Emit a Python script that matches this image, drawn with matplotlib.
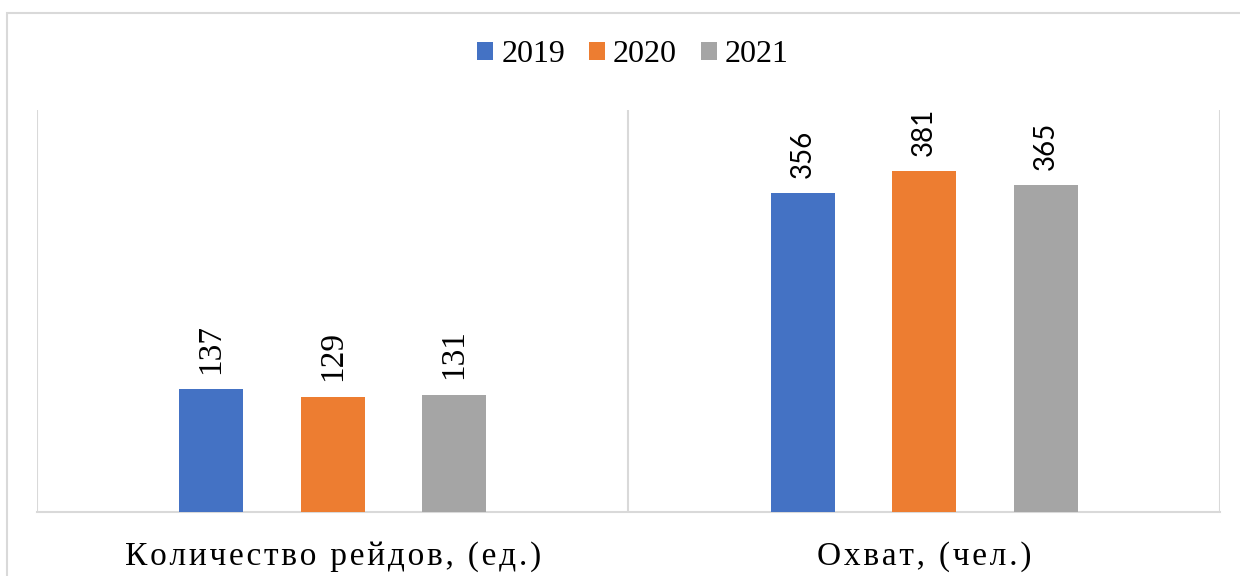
import matplotlib.pyplot as plt
import numpy as np
from matplotlib.patches import Rectangle

# data
categories = ["Количество рейдов, (ед.)", "Охват, (чел.)"]
years = ["2019", "2020", "2021"]
values_2019 = [137, 356]
values_2020 = [129, 381]
values_2021 = [131, 365]

COLORS = ["#4472C4", "#ED7D31", "#A5A5A5"]
GRID = "#D9D9D9"
SERIF = "Liberation Serif"


def spaced(text):
    """Mimic the letter spacing of the original axis labels."""
    return "\u200a".join(text)


W, H = 1240, 576
fig = plt.figure(figsize=(W / 100, H / 100), dpi=100)

# outer chart frame (cropped on the right and bottom in the reference)
fig.patches.append(
    Rectangle((7 / W, -0.1), 1.2, 1.1 - 13 / H, transform=fig.transFigure,
              fill=False, edgecolor=GRID, linewidth=1.5)
)

ax = fig.add_axes([37 / W, 1 - 512 / H, (1220 - 37) / W, (512 - 110) / H])

series = [values_2019, values_2020, values_2021]
x = np.arange(len(categories))
width = 0.108
step = 0.2056

bars = []
for i, (year, vals) in enumerate(zip(years, series)):
    b = ax.bar(x + (i - 1) * step, vals, width, color=COLORS[i], label=year, zorder=3)
    bars.append(b)

# value labels: serif on the first group, sans on the second (as in the reference)
for b in bars:
    for j, rect in enumerate(b):
        fam = SERIF if j == 0 else "Lato"
        size = 24 if j == 0 else 20
        ax.annotate(f"{int(rect.get_height())}",
                    (rect.get_x() + rect.get_width() / 2, rect.get_height()),
                    xytext=(0, 11), textcoords="offset points",
                    ha="center", va="bottom", rotation=90,
                    fontsize=size, family=fam)

ax.set_xlim(-0.5, 1.5)
ax.set_ylim(0, 449)

for s in ["top", "right", "left"]:
    ax.spines[s].set_visible(False)
ax.spines["bottom"].set_color(GRID)
ax.spines["bottom"].set_linewidth(1.5)

for xv in [-0.5, 0.5, 1.5]:
    ax.axvline(xv, color=GRID, linewidth=1.5, zorder=1)

ax.set_yticks([])
ax.set_xticks(x)
ax.set_xticklabels([spaced(c) for c in categories], family=SERIF, fontsize=24)
ax.tick_params(axis="x", length=0, pad=21)

leg = fig.legend(loc="center", bbox_to_anchor=(633 / W, 1 - 55 / H), ncol=3,
                 frameon=False, prop={"family": SERIF, "size": 23},
                 handlelength=0.5, handleheight=0.5, handletextpad=0.25,
                 columnspacing=0.75)

fig.savefig("out.png", dpi=100)
